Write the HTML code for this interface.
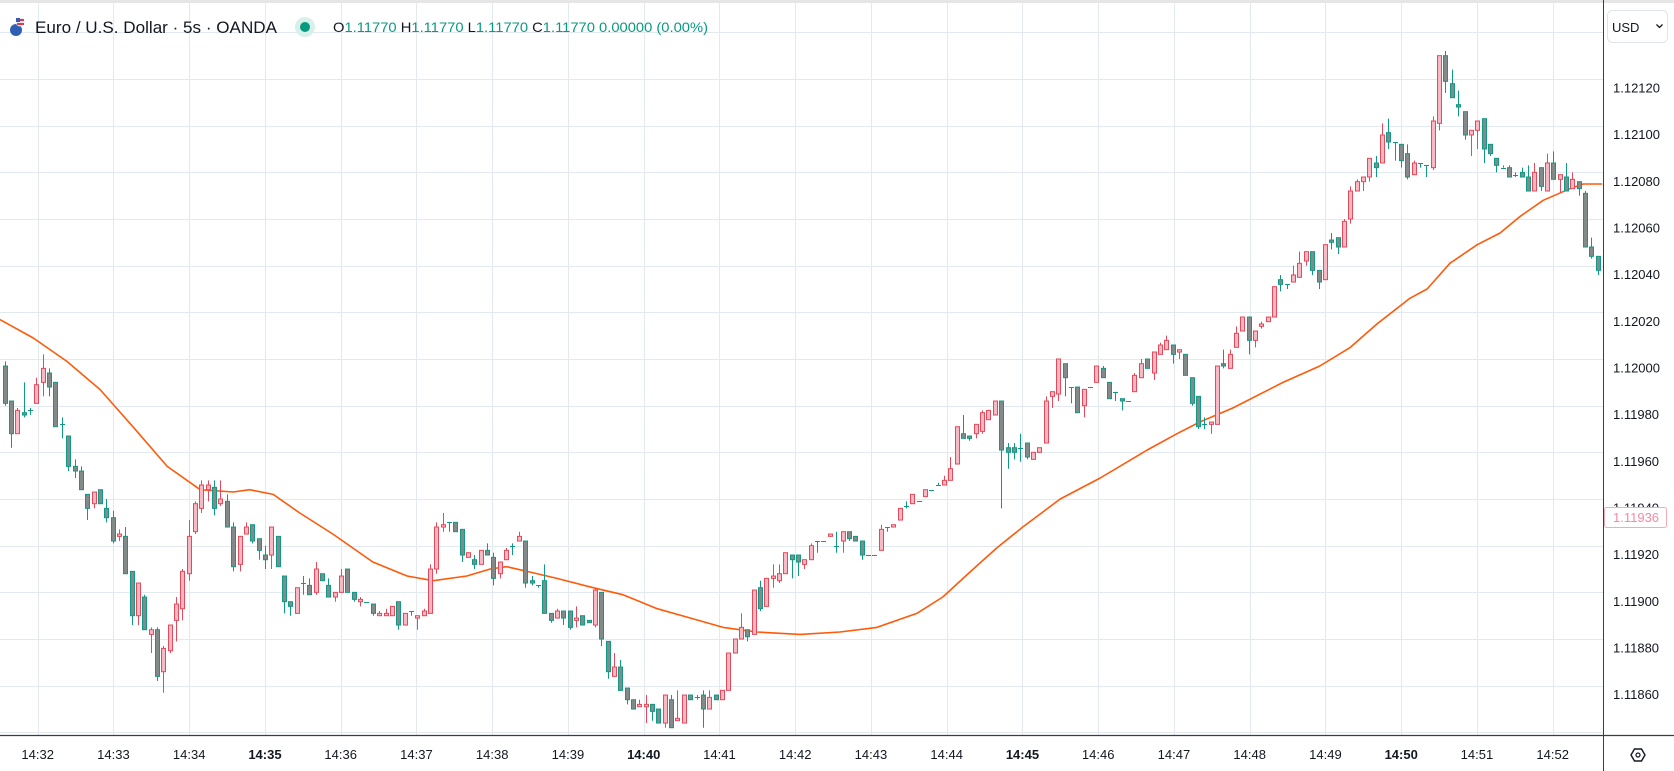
<!DOCTYPE html>
<html><head><meta charset="utf-8"><title>EUR/USD 5s chart</title>
<style>
html,body{margin:0;padding:0;background:#fff;}
svg{display:block;font-family:"Liberation Sans",sans-serif;}
</style></head>
<body>
<svg id="chart" width="1674" height="771" viewBox="0 0 1674 771" xmlns="http://www.w3.org/2000/svg">
  <rect x="0" y="0" width="1674" height="771" fill="#ffffff"/>
  <rect x="0" y="0" width="1674" height="3" fill="#e6e6e6"/>
  <g id="grid"></g>
  <g id="ema"></g>
  <g id="candles"></g>
  <g id="header">
    <g>
      <circle cx="16" cy="30" r="6" fill="#2f5fb3"/>
      <circle cx="20" cy="22" r="4.5" fill="#e8e8f0"/>
      <rect x="17" y="19" width="7" height="2" fill="#e0394a"/>
      <rect x="17" y="23" width="7" height="2" fill="#e0394a"/>
      <rect x="16" y="18" width="4" height="4" fill="#3b5ab0"/>
    </g>
    <text x="35" y="33" font-size="17" fill="#131722" textLength="242" lengthAdjust="spacingAndGlyphs">Euro / U.S. Dollar · 5s · OANDA</text>
    <circle cx="305" cy="27" r="10" fill="#d8f0ea"/>
    <circle cx="305" cy="27" r="5" fill="#089981"/>
    <text x="333" y="32" font-size="14" fill="#089981" textLength="375" lengthAdjust="spacingAndGlyphs"><tspan fill="#131722">O</tspan>1.11770 <tspan fill="#131722">H</tspan>1.11770 <tspan fill="#131722">L</tspan>1.11770 <tspan fill="#131722">C</tspan>1.11770 0.00000 (0.00%)</text>
  </g>
  <line x1="1603.5" y1="0" x2="1603.5" y2="771" stroke="#3a3d45" stroke-width="1"/>
  <line x1="0" y1="735.5" x2="1674" y2="735.5" stroke="#3a3d45" stroke-width="1.2"/>
  <g id="yticks"></g>
  <g id="xticks"></g>
  <g>
    <rect x="1604.5" y="507.5" width="62" height="20" rx="2" fill="#fff" stroke="#f7a9b8"/>
    <text x="1613" y="522" font-size="13" fill="#f38aa2">1.11936</text>
  </g>
  <g>
    <rect x="1607.5" y="10.5" width="60" height="32" rx="5" fill="#fff" stroke="#e0e3eb"/>
    <text x="1612" y="32" font-size="13" fill="#131722">USD</text>
    <path d="M1656.5 24.5 L1659.5 27.5 L1662.5 24.5" fill="none" stroke="#131722" stroke-width="1.3"/>
  </g>
  <g>
    <path d="M1631 755 L1634.5 749 L1641.5 749 L1645 755 L1641.5 761 L1634.5 761 Z" fill="none" stroke="#131722" stroke-width="1.4"/>
    <circle cx="1638" cy="755" r="2" fill="none" stroke="#131722" stroke-width="1.2"/>
  </g>
</svg>
<script>
const opens=[1.11997,1.11982,1.11968,1.11977,1.11978,1.11981,1.11990,1.11994,1.11990,1.11972,1.11967,1.11954,1.11952,1.11942,1.11938,1.11944,1.11936,1.11932,1.11924,1.11924,1.11909,1.11890,1.11898,1.11882,1.11884,1.11866,1.11875,1.11888,1.11893,1.11908,1.11926,1.11936,1.11944,1.11945,1.11938,1.11939,1.11928,1.11912,1.11925,1.11929,1.11923,1.11916,1.11916,1.11924,1.11907,1.11896,1.11891,1.11904,1.11903,1.11900,1.11908,1.11903,1.11898,1.11900,1.11910,1.11900,1.11896,1.11896,1.11895,1.11890,1.11890,1.11890,1.11896,1.11886,1.11892,1.11889,1.11890,1.11891,1.11910,1.11928,1.11930,1.11930,1.11927,1.11915,1.11914,1.11912,1.11918,1.11915,1.11908,1.11914,1.11920,1.11922,1.11922,1.11905,1.11903,1.11905,1.11891,1.11889,1.11892,1.11892,1.11888,1.11890,1.11888,1.11886,1.11900,1.11879,1.11864,1.11868,1.11859,1.11854,1.11851,1.11851,1.11852,1.11850,1.11844,1.11854,1.11845,1.11844,1.11856,1.11855,1.11856,1.11850,1.11856,1.11854,1.11858,1.11874,1.11880,1.11884,1.11882,1.11902,1.11894,1.11906,1.11905,1.11908,1.11916,1.11916,1.11912,1.11914,1.11922,1.11922,1.11924,1.11920,1.11922,1.11926,1.11924,1.11922,1.11916,1.11916,1.11918,1.11928,1.11928,1.11931,1.11937,1.11938,1.11939,1.11941,1.11944,1.11946,1.11946,1.11948,1.11955,1.11968,1.11967,1.11968,1.11969,1.11974,1.11976,1.11982,1.11962,1.11962,1.11962,1.11964,1.11957,1.11960,1.11964,1.11984,1.11985,1.11998,1.11988,1.11988,1.11980,1.11988,1.11990,1.11996,1.11990,1.11986,1.11983,1.11982,1.11986,1.11992,1.12000,1.11994,1.12002,1.12004,1.12006,1.12003,1.12002,1.11992,1.11984,1.11972,1.11972,1.11972,1.11998,1.11996,1.12005,1.12012,1.12018,1.12008,1.12014,1.12016,1.12018,1.12034,1.12032,1.12033,1.12035,1.12042,1.12046,1.12038,1.12034,1.12051,1.12052,1.12048,1.12060,1.12072,1.12076,1.12078,1.12084,1.12084,1.12097,1.12093,1.12092,1.12088,1.12079,1.12084,1.12083,1.12082,1.12101,1.12130,1.12118,1.12109,1.12106,1.12096,1.12098,1.12103,1.12092,1.12086,1.12082,1.12082,1.12079,1.12080,1.12078,1.12072,1.12082,1.12072,1.12084,1.12077,1.12078,1.12073,1.12076,1.12071,1.12048,1.12044];
const highs=[1.11999,1.11982,1.11979,1.11990,1.11979,1.11992,1.12002,1.11996,1.11990,1.11975,1.11967,1.11957,1.11954,1.11942,1.11943,1.11944,1.11940,1.11935,1.11927,1.11928,1.11909,1.11904,1.11899,1.11885,1.11885,1.11877,1.11886,1.11898,1.11910,1.11931,1.11939,1.11948,1.11948,1.11948,1.11948,1.11942,1.11930,1.11924,1.11930,1.11929,1.11923,1.11920,1.11928,1.11924,1.11907,1.11896,1.11902,1.11907,1.11906,1.11913,1.11908,1.11906,1.11900,1.11910,1.11910,1.11900,1.11898,1.11896,1.11895,1.11892,1.11893,1.11894,1.11896,1.11891,1.11892,1.11890,1.11893,1.11912,1.11930,1.11934,1.11930,1.11930,1.11927,1.11917,1.11916,1.11918,1.11921,1.11917,1.11913,1.11919,1.11921,1.11926,1.11922,1.11907,1.11903,1.11912,1.11891,1.11893,1.11892,1.11892,1.11894,1.11890,1.11888,1.11902,1.11900,1.11879,1.11874,1.11871,1.11859,1.11854,1.11854,1.11856,1.11852,1.11850,1.11856,1.11856,1.11858,1.11856,1.11856,1.11856,1.11858,1.11858,1.11856,1.11858,1.11874,1.11880,1.11891,1.11884,1.11901,1.11905,1.11906,1.11912,1.11912,1.11917,1.11916,1.11916,1.11914,1.11921,1.11922,1.11922,1.11925,1.11926,1.11926,1.11926,1.11924,1.11922,1.11916,1.11916,1.11929,1.11928,1.11929,1.11936,1.11939,1.11942,1.11939,1.11944,1.11944,1.11947,1.11950,1.11958,1.11971,1.11976,1.11967,1.11972,1.11978,1.11978,1.11982,1.11982,1.11964,1.11964,1.11968,1.11964,1.11960,1.11962,1.11984,1.11986,1.12000,1.11998,1.11988,1.11988,1.11987,1.11988,1.11997,1.11997,1.11990,1.11986,1.11983,1.11982,1.11994,1.12000,1.12000,1.12003,1.12007,1.12010,1.12006,1.12004,1.12002,1.11992,1.11984,1.11975,1.11973,1.11997,1.12004,1.12004,1.12014,1.12018,1.12018,1.12012,1.12016,1.12018,1.12031,1.12036,1.12032,1.12040,1.12046,1.12046,1.12046,1.12038,1.12049,1.12054,1.12052,1.12060,1.12074,1.12077,1.12078,1.12086,1.12087,1.12101,1.12103,1.12093,1.12092,1.12092,1.12085,1.12084,1.12083,1.12104,1.12130,1.12132,1.12124,1.12115,1.12106,1.12098,1.12102,1.12103,1.12092,1.12086,1.12083,1.12083,1.12080,1.12082,1.12083,1.12084,1.12082,1.12088,1.12089,1.12079,1.12084,1.12080,1.12076,1.12072,1.12052,1.12044];
const lows=[1.11980,1.11962,1.11968,1.11975,1.11976,1.11981,1.11984,1.11984,1.11971,1.11966,1.11952,1.11949,1.11944,1.11931,1.11936,1.11938,1.11930,1.11921,1.11922,1.11908,1.11886,1.11886,1.11884,1.11874,1.11862,1.11857,1.11874,1.11879,1.11888,1.11905,1.11925,1.11934,1.11939,1.11933,1.11937,1.11928,1.11909,1.11909,1.11925,1.11921,1.11914,1.11910,1.11910,1.11911,1.11891,1.11890,1.11891,1.11899,1.11899,1.11899,1.11905,1.11898,1.11896,1.11900,1.11900,1.11896,1.11894,1.11896,1.11890,1.11890,1.11890,1.11890,1.11884,1.11886,1.11890,1.11884,1.11890,1.11891,1.11908,1.11926,1.11926,1.11926,1.11913,1.11915,1.11910,1.11912,1.11916,1.11903,1.11906,1.11914,1.11916,1.11922,1.11902,1.11903,1.11902,1.11891,1.11887,1.11889,1.11886,1.11884,1.11885,1.11886,1.11887,1.11885,1.11877,1.11863,1.11864,1.11858,1.11852,1.11850,1.11851,1.11844,1.11845,1.11844,1.11842,1.11842,1.11845,1.11844,1.11854,1.11854,1.11842,1.11850,1.11854,1.11854,1.11858,1.11874,1.11880,1.11879,1.11882,1.11892,1.11894,1.11902,1.11904,1.11908,1.11906,1.11907,1.11910,1.11914,1.11917,1.11922,1.11924,1.11917,1.11917,1.11922,1.11922,1.11914,1.11916,1.11916,1.11918,1.11926,1.11928,1.11931,1.11936,1.11938,1.11939,1.11941,1.11944,1.11946,1.11946,1.11948,1.11955,1.11966,1.11965,1.11966,1.11968,1.11974,1.11976,1.11936,1.11953,1.11957,1.11956,1.11957,1.11957,1.11960,1.11964,1.11979,1.11982,1.11984,1.11981,1.11977,1.11975,1.11988,1.11990,1.11992,1.11983,1.11982,1.11978,1.11982,1.11986,1.11992,1.11996,1.11991,1.12002,1.12004,1.11998,1.12000,1.11993,1.11980,1.11970,1.11970,1.11968,1.11972,1.11996,1.11996,1.12005,1.12012,1.12002,1.12005,1.12013,1.12016,1.12018,1.12029,1.12030,1.12033,1.12035,1.12040,1.12036,1.12030,1.12034,1.12047,1.12045,1.12048,1.12058,1.12072,1.12072,1.12076,1.12078,1.12084,1.12090,1.12085,1.12082,1.12077,1.12079,1.12082,1.12078,1.12081,1.12098,1.12114,1.12112,1.12104,1.12094,1.12087,1.12090,1.12084,1.12087,1.12080,1.12082,1.12078,1.12078,1.12078,1.12072,1.12072,1.12072,1.12072,1.12077,1.12071,1.12072,1.12073,1.12070,1.12048,1.12043,1.12036];
const closes=[1.11981,1.11968,1.11978,1.11976,1.11978,1.11989,1.11996,1.11988,1.11971,1.11972,1.11954,1.11952,1.11944,1.11936,1.11943,1.11938,1.11932,1.11922,1.11925,1.11908,1.11890,1.11904,1.11884,1.11884,1.11864,1.11876,1.11886,1.11895,1.11909,1.11924,1.11938,1.11946,1.11946,1.11936,1.11940,1.11928,1.11911,1.11924,1.11928,1.11922,1.11918,1.11914,1.11928,1.11911,1.11896,1.11894,1.11902,1.11904,1.11899,1.11910,1.11905,1.11898,1.11900,1.11907,1.11900,1.11897,1.11897,1.11896,1.11891,1.11891,1.11891,1.11894,1.11886,1.11891,1.11892,1.11890,1.11892,1.11910,1.11928,1.11929,1.11930,1.11926,1.11916,1.11917,1.11912,1.11918,1.11916,1.11906,1.11913,1.11918,1.11920,1.11924,1.11904,1.11904,1.11903,1.11891,1.11888,1.11892,1.11889,1.11885,1.11889,1.11886,1.11887,1.11901,1.11880,1.11866,1.11868,1.11858,1.11854,1.11850,1.11852,1.11852,1.11849,1.11844,1.11856,1.11842,1.11846,1.11856,1.11854,1.11855,1.11850,1.11855,1.11854,1.11858,1.11874,1.11880,1.11885,1.11881,1.11901,1.11893,1.11906,1.11907,1.11908,1.11917,1.11914,1.11913,1.11914,1.11920,1.11922,1.11922,1.11925,1.11920,1.11926,1.11923,1.11922,1.11916,1.11916,1.11916,1.11927,1.11928,1.11929,1.11936,1.11937,1.11942,1.11939,1.11944,1.11944,1.11946,1.11948,1.11953,1.11971,1.11966,1.11966,1.11972,1.11977,1.11978,1.11982,1.11961,1.11960,1.11960,1.11962,1.11958,1.11960,1.11962,1.11982,1.11986,1.12000,1.11992,1.11988,1.11977,1.11987,1.11988,1.11997,1.11992,1.11983,1.11986,1.11982,1.11982,1.11993,1.11998,1.11996,1.12003,1.12006,1.12008,1.12002,1.12004,1.11993,1.11981,1.11971,1.11972,1.11973,1.11997,1.11997,1.12002,1.12011,1.12018,1.12008,1.12012,1.12015,1.12018,1.12031,1.12032,1.12032,1.12036,1.12041,1.12046,1.12038,1.12033,1.12049,1.12050,1.12048,1.12059,1.12072,1.12076,1.12078,1.12086,1.12082,1.12096,1.12093,1.12093,1.12085,1.12078,1.12084,1.12084,1.12083,1.12102,1.12130,1.12119,1.12112,1.12108,1.12096,1.12098,1.12102,1.12090,1.12088,1.12083,1.12082,1.12078,1.12079,1.12078,1.12072,1.12080,1.12074,1.12084,1.12077,1.12079,1.12072,1.12077,1.12073,1.12048,1.12044,1.12038];
const emaIdx=[-5.8,-0.5,4.8,10,15.2,20.6,25.8,31,33.6,37.3,41.5,46.7,53,58.4,62.5,67.8,71.5,74.1,77.3,82,87.7,92.4,97.8,103,108.2,113.5,120.3,126.6,132.4,138.7,142.8,147.6,151.3,155.4,161.3,167.6,175,179.7,183.3,188.5,196.4,202.2,207,211.2,216.4,219.1,222.7,227,230.6,233.7,237.4,241.6,243.7,246.7];
const emaVals=[1.12017,1.12009,1.11999,1.11987,1.11971,1.11954,1.11944,1.11943,1.11944,1.11942,1.11934,1.11925,1.11913,1.11907,1.11905,1.11907,1.11910,1.11911,1.11909,1.11906,1.11902,1.11899,1.11893,1.11889,1.11885,1.11883,1.11882,1.11883,1.11885,1.11891,1.11898,1.11910,1.11919,1.11928,1.11940,1.11949,1.11961,1.11968,1.11973,1.11979,1.11990,1.11997,1.12005,1.12015,1.12026,1.12030,1.12041,1.12049,1.12054,1.12061,1.12068,1.12073,1.12075,1.12075];
const priceTicks=[1.12140,1.12120,1.12100,1.12080,1.12060,1.12040,1.12020,1.12000,1.11980,1.11960,1.11940,1.11920,1.11900,1.11880,1.11860,1.11840];
const timeTicks=["14:32","14:33","14:34","14:35","14:36","14:37","14:38","14:39","14:40","14:41","14:42","14:43","14:44","14:45","14:46","14:47","14:48","14:49","14:50","14:51","14:52"];
const boldTicks=["14:35","14:40","14:45","14:50"];

const NS="http://www.w3.org/2000/svg";
function yScale(p){return 79+(1.12120-p)/0.0002*46.67;}
function xScale(k){return 4.7+(k+5)*6.347;}
function tScale(i){return 37.7+i*75.75;}
function mk(tag,attrs,parent){const e=document.createElementNS(NS,tag);for(const a in attrs)e.setAttribute(a,attrs[a]);parent.appendChild(e);return e;}

const grid=document.getElementById('grid');
priceTicks.forEach(p=>{
  const y=Math.round(yScale(p))+0.5;
  const l=mk('line',{x1:0,x2:1603,y1:y,y2:y,stroke:'#e3e9f0','stroke-width':1},grid);
  
  
});
timeTicks.forEach((t,i)=>{
  const x=Math.round(tScale(i))+0.5;
  const l=mk('line',{x1:x,x2:x,y1:3,y2:735,stroke:'#e3e9f0','stroke-width':1},grid);
  
  
});

const yt=document.getElementById('yticks');
priceTicks.forEach(p=>{
  const y=yScale(p);
  if(y<60||y>720)return;
  const t=mk('text',{x:1613,y:y+13.5,'font-size':13,fill:'#131722'},yt);
  t.textContent=p.toFixed(5);
  
  
});
const xt=document.getElementById('xticks');
timeTicks.forEach((lab,i)=>{
  const b=boldTicks.includes(lab);
  const t=mk('text',{x:tScale(i),y:759,'font-size':13,fill:'#131722','text-anchor':'middle','font-weight':b?'bold':'normal'},xt);
  t.textContent=lab;
  
  
});

const cg=document.getElementById('candles');
for(let i=0;i<opens.length;i++){
  const k=i-5, x=xScale(k);
  const o=opens[i],h=highs[i],l=lows[i],c=closes[i];
  const up=c>o;
  const stroke=up?'#e5495a':'#0e9a84';
  const fill=up?'#f8b9c4':'#838b8a';
  const cx=Math.round(x)+0.5;
  const w=mk('line',{x1:cx,x2:cx,y1:yScale(h),y2:yScale(l),stroke:stroke,'stroke-width':1},cg);
  
  
  let yt0=yScale(Math.max(o,c)), yb=yScale(Math.min(o,c));
  if(yb-yt0<1){
    const d=mk('line',{x1:cx-2.5,x2:cx+2.5,y1:Math.round(yt0)+0.5,y2:Math.round(yt0)+0.5,stroke:stroke,'stroke-width':1},cg);
    
    
  } else {
    const r=mk('rect',{x:cx-2,y:yt0,width:4,height:yb-yt0,fill:fill,stroke:stroke,'stroke-width':1},cg);
    
    
  }
}

const eg=document.getElementById('ema');
const pts=emaIdx.map((k,i)=>xScale(k).toFixed(1)+','+yScale(emaVals[i]).toFixed(1)).join(' ');
const pl=mk('polyline',{points:pts,fill:'none',stroke:'#ff5a0a','stroke-width':1.6,'stroke-linejoin':'round'},eg);


</script>
</body></html>
